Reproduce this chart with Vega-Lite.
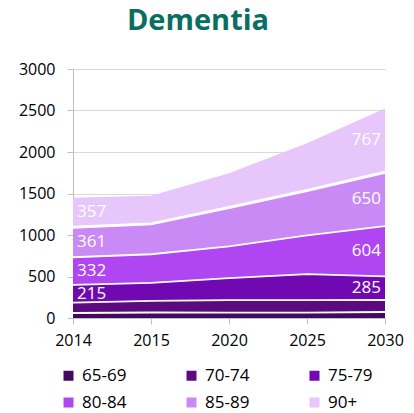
{
  "$schema": "https://vega.github.io/schema/vega-lite/v6.json",
  "width": 312,
  "height": 249,
  "autosize": {"type": "none"},
  "padding": {"left": 73, "top": 69, "right": 29, "bottom": 95},
  "background": "white",
  "title": {"text": "Dementia", "font": "Open Sans", "fontSize": 29, "fontWeight": "bold", "color": "#0b6e63", "anchor": "middle", "frame": "group", "dx": -31, "offset": 25},
  "config": {
    "view": {"stroke": null},
    "axis": {"labelFont": "Open Sans", "labelFontSize": 16, "labelColor": "#000000"}
  },
  "data": {
    "values": [
      {"year": "2014", "series": "65-69", "value": 60},
      {"year": "2014", "series": "70-74", "value": 125},
      {"year": "2014", "series": "75-79", "value": 215},
      {"year": "2014", "series": "80-84", "value": 332},
      {"year": "2014", "series": "85-89", "value": 361},
      {"year": "2014", "series": "90+", "value": 357},
      {"year": "2015", "series": "65-69", "value": 66},
      {"year": "2015", "series": "70-74", "value": 140},
      {"year": "2015", "series": "75-79", "value": 218},
      {"year": "2015", "series": "80-84", "value": 344},
      {"year": "2015", "series": "85-89", "value": 366},
      {"year": "2015", "series": "90+", "value": 340},
      {"year": "2020", "series": "65-69", "value": 64},
      {"year": "2020", "series": "70-74", "value": 152},
      {"year": "2020", "series": "75-79", "value": 264},
      {"year": "2020", "series": "80-84", "value": 384},
      {"year": "2020", "series": "85-89", "value": 468},
      {"year": "2020", "series": "90+", "value": 412},
      {"year": "2025", "series": "65-69", "value": 64},
      {"year": "2025", "series": "70-74", "value": 152},
      {"year": "2025", "series": "75-79", "value": 312},
      {"year": "2025", "series": "80-84", "value": 468},
      {"year": "2025", "series": "85-89", "value": 540},
      {"year": "2025", "series": "90+", "value": 568},
      {"year": "2030", "series": "65-69", "value": 72},
      {"year": "2030", "series": "70-74", "value": 145},
      {"year": "2030", "series": "75-79", "value": 285},
      {"year": "2030", "series": "80-84", "value": 604},
      {"year": "2030", "series": "85-89", "value": 650},
      {"year": "2030", "series": "90+", "value": 767}
    ]
  },
  "transform": [
    {"stack": "value", "groupby": ["year"], "sort": [{"field": "series", "order": "ascending"}], "as": ["v0", "v1"]},
    {"calculate": "(datum.v0 + datum.v1) / 2", "as": "mid"}
  ],
  "layer": [
    {
      "mark": {"type": "area", "opacity": 1, "interpolate": "linear"},
      "encoding": {
        "x": {"field": "year", "type": "ordinal", "scale": {"type": "point", "padding": 0},
          "axis": {"title": null, "labelAngle": 0, "domainColor": "#bfbfbf", "tickColor": "#bfbfbf", "tickSize": 6, "labelPadding": 8, "grid": false}},
        "y": {"field": "v1", "type": "quantitative", "scale": {"domain": [0, 3000], "nice": false},
          "axis": {"title": null, "format": "d", "values": [0, 500, 1000, 1500, 2000, 2500, 3000], "gridColor": "#d9d9d9", "domainColor": "#bfbfbf", "tickColor": "#bfbfbf", "tickSize": 6, "labelPadding": 12}},
        "y2": {"field": "v0"},
        "color": {"field": "series", "type": "nominal",
          "scale": {"domain": ["65-69", "70-74", "75-79", "80-84", "85-89", "90+"], "range": ["#410a5e", "#5b0a7f", "#7109b2", "#b046f2", "#ca8af5", "#e6c6fb"]},
          "legend": {"title": null, "orient": "none", "legendX": -13, "legendY": 298, "direction": "horizontal", "columns": 3, "columnPadding": 56, "rowPadding": 9, "symbolType": "square", "symbolSize": 100, "symbolOpacity": 1, "symbolStrokeWidth": 0, "labelFontSize": 17, "labelFont": "Open Sans", "labelColor": "#000000", "labelOffset": 5, "padding": 0}}
      }
    },
    {
      "transform": [{"filter": "datum.series != '90+'"}],
      "mark": {"type": "line", "color": "white", "interpolate": "linear"},
      "encoding": {
        "x": {"field": "year", "type": "ordinal"},
        "y": {"field": "v1", "type": "quantitative"},
        "detail": {"field": "series"},
        "strokeWidth": {"condition": {"test": "datum.series == '85-89'", "value": 3}, "value": 1.8}
      }
    },
    {
      "transform": [{"filter": "datum.year == '2014' && datum.series != '65-69' && datum.series != '70-74'"}],
      "mark": {"type": "text", "align": "left", "baseline": "middle", "dx": 4, "font": "Open Sans", "fontSize": 17, "color": "white"},
      "encoding": {
        "x": {"field": "year", "type": "ordinal"},
        "y": {"field": "mid", "type": "quantitative"},
        "text": {"field": "value", "type": "quantitative"}
      }
    },
    {
      "transform": [{"filter": "datum.year == '2030' && datum.series != '65-69' && datum.series != '70-74'"}],
      "mark": {"type": "text", "align": "right", "baseline": "middle", "dx": -4, "font": "Open Sans", "fontSize": 17, "color": "white"},
      "encoding": {
        "x": {"field": "year", "type": "ordinal"},
        "y": {"field": "mid", "type": "quantitative"},
        "text": {"field": "value", "type": "quantitative"}
      }
    }
  ]
}
